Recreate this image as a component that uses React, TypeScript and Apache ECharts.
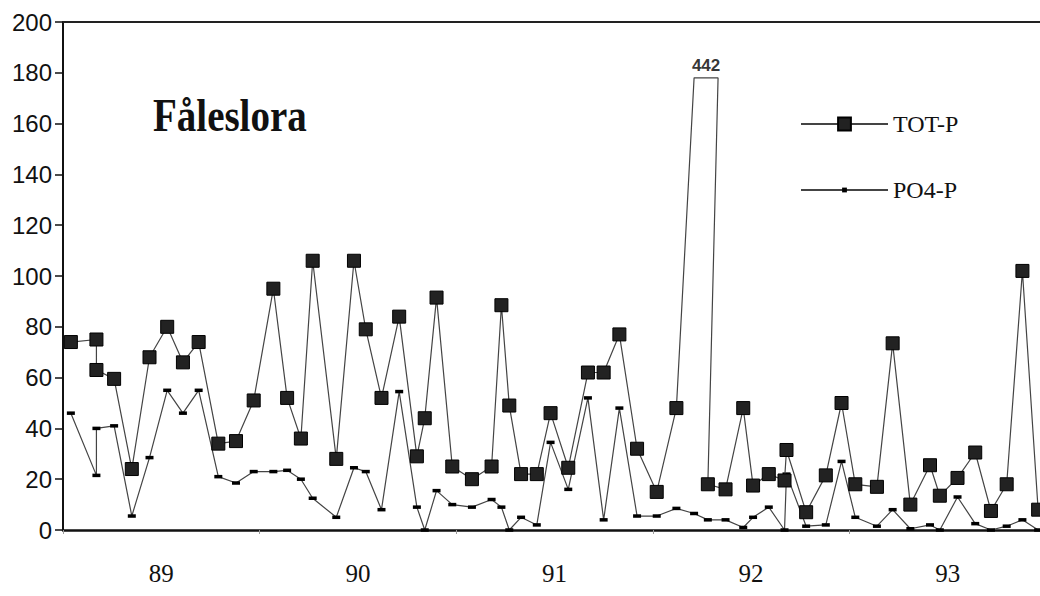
import React, { useEffect, useRef } from "react";
import * as echarts from "echarts";

// Sampling dates (decimal years) shared by both series
const DATES = [
  1989.04, 1989.17, 1989.17, 1989.26, 1989.35, 1989.44, 1989.53, 1989.61, 1989.69, 1989.79, 1989.88, 1989.97,
  1990.07, 1990.14, 1990.21, 1990.27, 1990.39, 1990.48, 1990.54, 1990.62, 1990.71, 1990.8, 1990.84, 1990.9, 1990.98,
  1991.08, 1991.18, 1991.23, 1991.27, 1991.33, 1991.41, 1991.48, 1991.57, 1991.67, 1991.75, 1991.83, 1991.92,
  1992.02, 1992.12, 1992.21, 1992.28, 1992.37, 1992.46, 1992.51, 1992.59, 1992.67, 1992.68, 1992.78, 1992.88, 1992.96,
  1993.03, 1993.14, 1993.22, 1993.31, 1993.41, 1993.46, 1993.55, 1993.64, 1993.72, 1993.8, 1993.88, 1993.96,
];

const TOT_P = [
  74, 75, 63, 59.5, 24, 68, 80, 66, 74, 34, 35, 51,
  95, 52, 36, 106, 28, 106, 79, 52, 84, 29, 44, 91.5, 25,
  20, 25, 88.5, 49, 22, 22, 46, 24.5, 62, 62, 77, 32,
  15, 48, 442, 18, 16, 48, 17.5, 22, 19.5, 31.5, 7, 21.5, 50,
  18, 17, 73.5, 10, 25.5, 13.5, 20.5, 30.5, 7.5, 18, 102, 8,
];

const PO4_P = [
  46, 21.5, 40, 41, 5.5, 28.5, 55, 46, 55, 21, 18.5, 23,
  23, 23.5, 20, 12.5, 5, 24.5, 23, 8, 54.5, 9, 0, 15.5, 10,
  9, 12, 9, 0, 5, 2, 34.5, 16, 52, 4, 48,
  5.5, 5.5, 8.5, 6.5, 4, 4, 1, 5, 9, 0, 22, 1.5, 2, 27,
  5, 1.5, 8, 0.5, 2, 0, 13, 2.5, 0, 1.5, 4, 0,
];

const YEAR_LABELS = ["89", "90", "91", "92", "93"];
const X_MIN = 1989;
const X_MAX = 1994;
const Y_MIN = 0;
const Y_MAX = 200;
const Y_STEP = 20;

const TITLE = "Fåleslora";
const NAME_TOT = "TOT-P";
const NAME_PO4 = "PO4-P";

// off-scale values are drawn as a broken peak at this level
const BREAK_LEVEL = 178;
const BREAK_SPAN = 0.122;

export default function App() {
  const ref = useRef<HTMLDivElement>(null);

  useEffect(() => {
    if (!ref.current) return;
    const chart = echarts.init(ref.current, undefined, { renderer: "svg" });

    const totData: any[] = [];
    const breakLabels: any[] = [];
    DATES.forEach((d, i) => {
      const v = TOT_P[i];
      if (v > Y_MAX) {
        totData.push({ value: [d, BREAK_LEVEL], symbol: "none" });
        totData.push({ value: [d + BREAK_SPAN, BREAK_LEVEL], symbol: "none" });
        breakLabels.push({ value: [d + BREAK_SPAN / 2, BREAK_LEVEL], orig: v });
      } else {
        totData.push([d, v]);
      }
    });
    const po4Data = DATES.map((d, i) => [d, PO4_P[i]]);

    const serif = '"Liberation Serif", "Times New Roman", serif';
    const sans = '"Liberation Sans", Arial, sans-serif';

    const titleGraphic = {
      id: "title",
      type: "text",
      x: 153,
      y: 115,
      scaleY: 1.2,
      style: {
        text: TITLE,
        font: 'bold 39px "Liberation Serif", "Times New Roman", serif',
        fill: "#111",
        textVerticalAlign: "middle",
      },
    };

    chart.setOption({
      animation: false,
      backgroundColor: "#ffffff",
      grid: { left: 63, right: 0, top: 22, bottom: 66, containLabel: false },
      xAxis: [
        {
          type: "value",
          position: "top",
          min: X_MIN,
          max: X_MAX,
          axisLine: { show: false, onZero: false },
          axisTick: { show: false },
          axisLabel: { show: false },
          splitLine: { show: false },
        },
        {
          type: "category",
          position: "bottom",
          data: YEAR_LABELS,
          boundaryGap: true,
          axisLine: { show: true, onZero: false, lineStyle: { color: "#111", width: 2.5 } },
          axisTick: { show: true, length: 4, lineStyle: { color: "#999", width: 1 } },
          axisLabel: {
            margin: 31,
            fontFamily: serif,
            fontSize: 25,
            color: "#111",
          },
          splitLine: { show: false },
        },
      ],
      yAxis: {
        type: "value",
        min: Y_MIN,
        max: Y_MAX,
        interval: Y_STEP,
        axisLine: { show: true, lineStyle: { color: "#111", width: 2 } },
        axisTick: { show: true, length: 8, lineStyle: { color: "#111", width: 1.5 } },
        axisLabel: { margin: 11, fontFamily: sans, fontSize: 24, color: "#111" },
        splitLine: { show: false },
      },
      legend: [
        {
          data: [NAME_TOT],
          left: 795,
          top: 107,
          orient: "vertical",
          itemWidth: 87,
          itemHeight: 16,
          textStyle: { fontFamily: serif, fontSize: 24, color: "#111", padding: [0, 0, 0, 0] },
        },
        {
          data: [NAME_PO4],
          left: 795,
          top: 173,
          orient: "vertical",
          itemWidth: 87,
          itemHeight: 6,
          textStyle: { fontFamily: serif, fontSize: 24, color: "#111", padding: [0, 0, 0, 0] },
        },
      ],
      graphic: [titleGraphic],
      series: [
        {
          name: NAME_TOT,
          type: "line",
          xAxisIndex: 0,
          data: totData,
          symbol: "rect",
          symbolSize: 13,
          showAllSymbol: true,
          lineStyle: { color: "#444", width: 1.2 },
          itemStyle: { color: "#222", borderColor: "#000", borderWidth: 1 },
          z: 3,
        },
        {
          name: NAME_PO4,
          type: "line",
          xAxisIndex: 0,
          data: po4Data,
          symbol: "rect",
          symbolSize: [8, 3.5],
          showAllSymbol: true,
          lineStyle: { color: "#444", width: 1.2 },
          itemStyle: { color: "#000" },
          z: 2,
        },
        {
          name: "break",
          type: "scatter",
          xAxisIndex: 0,
          data: breakLabels,
          symbolSize: 0,
          label: {
            show: true,
            position: "top",
            distance: 4,
            formatter: (p: any) => String(p.data.orig),
            fontFamily: sans,
            fontWeight: "bold",
            fontSize: 17,
            color: "#000",
          },
          silent: true,
        },
      ],
    });

    // top frame edge: a filled strip placed through the axes' own scales
    const yTop = chart.convertToPixel({ yAxisIndex: 0 }, Y_MAX) as number;
    const xLeft = chart.convertToPixel({ xAxisIndex: 0 }, X_MIN) as number;
    const xRight = chart.convertToPixel({ xAxisIndex: 0 }, X_MAX) as number;
    if (isFinite(yTop) && isFinite(xLeft) && isFinite(xRight)) {
      chart.setOption({
        graphic: [
          titleGraphic,
          {
            id: "frameTop",
            type: "rect",
            z: 100,
            silent: true,
            shape: { x: xLeft, y: yTop - 1, width: xRight - xLeft, height: 2 },
            style: { fill: "#222" },
          },
        ],
      });
    }

    return () => chart.dispose();
  }, []);

  return (
    <div
      ref={ref}
      style={{ position: "fixed", left: 0, top: 0, width: 1046, height: 596, background: "#fff" }}
    />
  );
}
